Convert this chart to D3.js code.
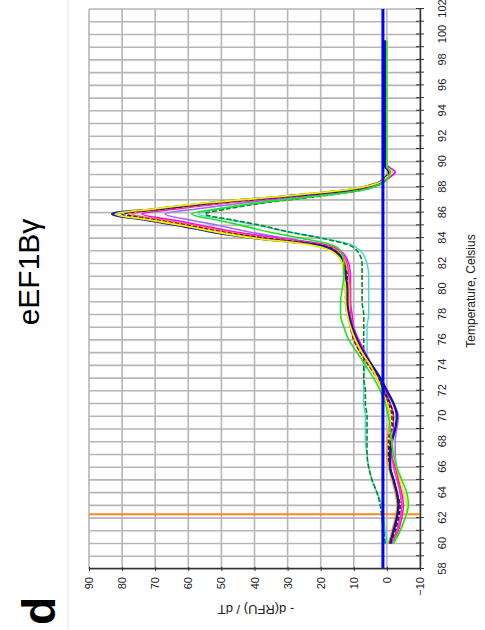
<!DOCTYPE html>
<html>
<head>
<meta charset="utf-8">
<script src="https://cdn.jsdelivr.net/npm/d3@7"></script>
<style>
  body { margin: 0; background: #fff; }
  svg { display: block; font-family: "Liberation Sans", Arial, sans-serif; }
</style>
</head>
<body>
<div id="my_dataviz"></div>
<script>
// melt curve, temperature on x, -d(RFU)/dT on y (the figure itself is turned 90deg)
var temps = [60, 61, 62, 63, 64, 65, 66, 67, 68, 69, 70, 71, 72, 73, 74, 75, 76, 77, 78, 79, 80, 81, 82, 83,
  83.5, 84, 84.5, 85, 85.4, 85.9, 86.3, 86.8, 87.3, 87.8, 88.3, 88.8, 89.2, 89.6, 90, 92, 94, 96, 98, 99.5];

var cyanVals = [0, 0.5, 1, 1.5, 3, 4.5, 5.5, 6, 6.5, 6.5, 6.5, 7, 7, 7, 6.5, 6, 6, 6, 5.5, 5.5, 5.5, 5.5, 6, 8,
  11, 19, 30, 39, 47, 57, 50, 37, 21, 7, 1.5, 0, -0.5, 0, 0.5, 0.5, 0.5, 0.5, 0.5, 0.5];
var darkGreenVals = [0.5, 1, 1.5, 2, 3, 4.5, 5.5, 6, 6, 6, 6, 6.5, 6.5, 7, 7, 7, 7, 7, 7, 7.5, 7.5, 7.5, 7.5, 9,
  12, 20, 30, 38, 46, 55, 48, 36, 20, 7, 1.5, 0, -0.5, 0, 0.5, 0.5, 0.5, 0.5, 0.5, 0.5];
var greenVals = [-2, -4, -5.5, -6.5, -6, -4.5, -3, -2, -1.5, -1, -0.5, 0.5, 2, 4, 6.5, 9, 11.5, 13, 14, 14, 13.5, 13, 13, 14,
  17, 26, 36, 44, 51, 59, 51, 38, 21, 7, 1.5, -0.5, -1, 0, 0, 0, 0, 0, 0, 0];
var violetVals = [-1.5, -3, -4, -4.5, -4, -3.5, -3, -2.5, -2.5, -3, -3.5, -2, 0, 2, 4.5, 7, 9, 10.5, 11.5, 12, 12, 12.5, 13, 15,
  19, 31, 42, 51, 59, 67, 57, 42, 24, 8, 2, -1, -2.5, -0.5, 0.5, 0.5, 0.5, 0.5, 0.5, 0.5];
var magentaVals = [-2, -3.5, -4.5, -5, -4.5, -3.5, -2.5, -1.5, -1.5, -2, -2, -1, 0.5, 2, 4.5, 6.5, 8.5, 10, 10.5, 11, 11, 11, 11.5, 14,
  19, 33, 46, 56, 64, 74, 63, 47, 26, 9, 2, -1, -2.5, -0.5, 0.5, 0.5, 0.5, 0.5, 0.5, 0.5];
var pinkVals = [-1.5, -3, -4, -4.5, -4, -3, -2, -1.5, -1, -1, -1, 0, 1, 2.5, 5, 7, 9, 10, 11, 11, 11, 11.5, 12, 14.5,
  20, 35, 48, 58, 67, 77, 65, 48, 27, 10, 3, 0, -1.5, 0, 0.5, 0.5, 0.5, 0.5, 0.5, 0.5];
var orangeVals = [-0.5, -1.5, -2.5, -3, -2.5, -1.5, -0.5, 0, 0, -0.5, -1, 0, 1.5, 3, 5.5, 8, 10, 11, 11.5, 11.5, 11.5, 12, 12.5, 15,
  21, 36, 49, 59, 68, 78, 66, 49, 28, 10, 3, 0.5, -0.5, 0.5, 0.5, 0.5, 0.5, 0.5, 0.5, 0.5];
var darkRedVals = [-1, -2, -3, -3.5, -3, -2, -1, -0.5, -0.5, -1, -1.5, -0.5, 1, 3, 5.5, 8, 10, 11, 11.5, 12, 12, 12, 13, 15.5,
  21, 37, 50, 60, 69, 79, 67, 50, 28, 10, 3, 0, -1, 0, 0.5, 0.5, 0.5, 0.5, 0.5, 0.5];
var blackVals = [-1, -2.5, -3.5, -4, -3, -2, -1, -0.5, -1, -1.5, -2, -1, 1, 2.5, 5, 7.5, 9.5, 11, 12, 12.5, 12.5, 13, 13.5, 16,
  22, 38, 51, 61, 70, 80, 68, 51, 29, 11, 3, 0.5, -0.5, 0.5, 0.5, 0.5, 0.5, 0.5, 0.5, 0.5];
var yellowVals = [-2, -4, -5.5, -6, -5, -4, -3, -2, -1.5, -1, -1, 0, 1.5, 3, 5, 7.5, 9.5, 11, 12, 12.5, 12.5, 13, 13.5, 17,
  24, 40, 52, 62, 71, 82, 70, 53, 31, 12, 3, 0, -1.5, 0, 0, 0, 0, 0, 0, 0];
var blueVals = [-1, -2, -3, -3.5, -3, -2, -1, -1, -1.5, -2.5, -3, -2, 0, 2, 4.5, 7, 9, 10.5, 11.5, 12, 12, 12.5, 13, 16,
  22, 40, 53, 63, 72, 83, 69, 52, 30, 11, 3, 0, -1, 0.5, 0.5, 0.5, 0.5, 0.5, 0.5, 0.5];

var tempTicks = [58, 60, 62, 64, 66, 68, 70, 72, 74, 76, 78, 80, 82, 84, 86, 88, 90, 92, 94, 96, 98, 100, 102];
var valueTicks = [-10, 0, 10, 20, 30, 40, 50, 60, 70, 80, 90];
var thresholdValue = 1.2;   // blue horizontal line
var cursorTemp = 62.3;      // orange vertical line

var series = [
  { vals: cyanVals, color: "#3fd9d9", w: 1.4, dash: null },
  { vals: darkGreenVals, color: "#0a8a1e", w: 1.6, dash: "5,2" },
  { vals: violetVals, color: "#a066ff", w: 1.5, dash: null },
  { vals: magentaVals, color: "#ff00ff", w: 1.5, dash: null },
  { vals: pinkVals, color: "#ff3c8c", w: 1.5, dash: null },
  { vals: orangeVals, color: "#ff9a1a", w: 1.5, dash: null },
  { vals: darkRedVals, color: "#8c0a0a", w: 1.6, dash: "4,2" },
  { vals: blackVals, color: "#222222", w: 1.5, dash: "4,2" },
  { vals: blueVals, color: "#1414a8", w: 2.4, dash: null },
  { vals: yellowVals, color: "#f2ee00", w: 1.8, dash: null },
  { vals: greenVals, color: "#22e022", w: 1.6, dash: null }
];

var W = 485, H = 630;

var svg = d3.select("#my_dataviz")
  .append("svg")
  .attr("width", W)
  .attr("height", H);

// whole chart is drawn upright in a 630 x 485 frame, then turned counter-clockwise
var g = svg.append("g")
  .attr("transform", "translate(0," + H + ") rotate(-90)");

var x = d3.scaleLinear().domain([58, 102]).range([61, 621]);
var y = d3.scaleLinear().domain([-10, 90]).range([420, 89]);

// faint panel edge
g.append("line")
  .attr("x1", 0).attr("x2", H)
  .attr("y1", 68).attr("y2", 68)
  .style("stroke", "#e4e4e4").style("stroke-width", 1);

// grid
g.append("g").selectAll("line")
  .data(d3.range(58, 103, 1))
  .enter().append("line")
  .attr("x1", function (d) { return x(d); })
  .attr("x2", function (d) { return x(d); })
  .attr("y1", y(-10)).attr("y2", y(90))
  .style("stroke", "#b6b6b6").style("stroke-width", 1.6);

g.append("g").selectAll("line")
  .data(valueTicks)
  .enter().append("line")
  .attr("x1", x(58)).attr("x2", x(102))
  .attr("y1", function (d) { return y(d); })
  .attr("y2", function (d) { return y(d); })
  .style("stroke", "#b6b6b6").style("stroke-width", 1.6);

// orange cursor line
g.append("line")
  .attr("x1", x(cursorTemp)).attr("x2", x(cursorTemp))
  .attr("y1", y(-10)).attr("y2", y(90))
  .style("stroke", "#ff8a1c").style("stroke-width", 2);

// curves
var line = d3.line()
  .x(function (d) { return x(d[0]); })
  .y(function (d) { return y(d[1]); })
  .curve(d3.curveMonotoneX);

series.forEach(function (s) {
  g.append("path")
    .datum(temps.map(function (t, i) { return [t, s.vals[i]]; }))
    .attr("d", line)
    .style("fill", "none")
    .style("stroke", s.color)
    .style("stroke-width", s.w)
    .style("stroke-dasharray", s.dash);
});

// blue threshold line
g.append("line")
  .attr("x1", x(58)).attr("x2", x(102))
  .attr("y1", y(thresholdValue)).attr("y2", y(thresholdValue))
  .style("stroke", "#0000ff").style("stroke-width", 3);

// temperature axis
var xAxis = g.append("g")
  .attr("transform", "translate(0," + y(-10) + ")")
  .call(d3.axisBottom(x)
    .tickValues(d3.range(58, 103, 1))
    .tickSizeInner(4).tickSizeOuter(0).tickPadding(14)
    .tickFormat(function (d) { return tempTicks.indexOf(d) >= 0 ? d : ""; }));
xAxis.selectAll(".tick line").attr("y1", -4).style("stroke", "#333");
xAxis.select(".domain").style("stroke", "#333").style("stroke-width", 1.5);
xAxis.selectAll("text").style("font-size", "11px").style("fill", "#222")
  .style("font-family", "Liberation Sans, Arial, sans-serif");

// value axis
var yAxis = g.append("g")
  .attr("transform", "translate(" + x(58) + ",0)")
  .call(d3.axisLeft(y)
    .tickValues(valueTicks)
    .tickSizeInner(2).tickSizeOuter(0).tickPadding(6));
yAxis.selectAll(".tick line").attr("x1", 2).style("stroke", "#333");
yAxis.select(".domain").style("stroke", "#333").style("stroke-width", 1.5);
yAxis.selectAll("text").style("font-size", "11px").style("fill", "#222")
  .style("font-family", "Liberation Sans, Arial, sans-serif");

// axis labels
g.append("text")
  .attr("x", 339).attr("y", 475)
  .attr("text-anchor", "middle")
  .style("font-size", "12px")
  .style("fill", "#222")
  .text("Temperature, Celsius");

g.append("text")
  .attr("transform", "translate(25,256) rotate(-90)")
  .attr("text-anchor", "middle")
  .style("font-size", "13px")
  .style("fill", "#222")
  .text("- d(RFU) / dT");

// title and panel letter
g.append("text")
  .attr("x", 358).attr("y", 39)
  .attr("text-anchor", "middle")
  .style("font-size", "30px")
  .style("fill", "#000")
  .text("eEF1B\u03b3");

g.append("text")
  .attr("x", 5).attr("y", 55)
  .style("font-size", "46px")
  .style("font-weight", "bold")
  .style("fill", "#000")
  .text("d");
</script>
</body>
</html>
